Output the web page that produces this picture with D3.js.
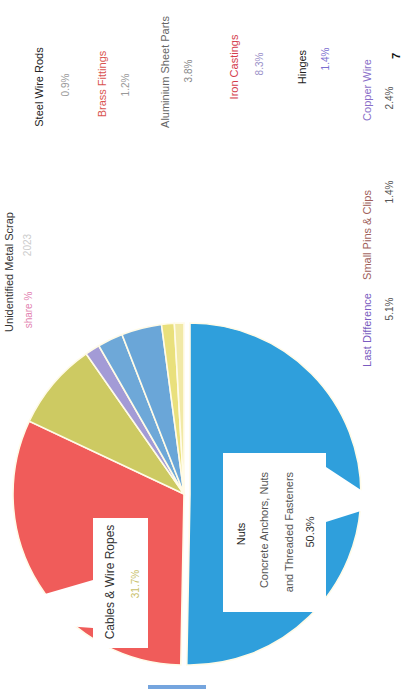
<!DOCTYPE html>
<html><head><meta charset="utf-8">
<script src="https://cdn.jsdelivr.net/npm/d3@7"></script>
<style>html,body{margin:0;padding:0;background:#fff}svg{display:block}</style>
</head><body>
<script>
// ---- data ----
const categories = ["Nuts", "Cables & Wires", "Tubes", "Hinges", "Screws", "Bolts", "Washers", "Rivets"];
const values = [50.3, 31.7, 8.3, 1.4, 2.4, 3.8, 1.2, 0.9];
const sliceColors = ["#2f9fdc", "#f05c5a", "#cdca62", "#a39bd6", "#6ea8d8", "#6aa6d8", "#e9e07c", "#f1e9a6"];
const legendLabels = ["Steel Wire Rods", "Brass Fittings", "Aluminium Sheet Parts", "Iron Castings", "Hinges"];
const legendValues = ["0.9%", "1.2%", "3.8%", "8.3%", "1.4%"];
const legendColors = ["#222", "#d9534f", "#666", "#d43c4c", "#222"];
const valueColors = ["#999", "#999", "#888", "#9a90c8", "#7b6fd0"];
const footLabels = ["Copper Wire", "Small Pins & Clips", "Last Difference"];
const footValues = ["2.4%", "1.4%", "5.1%"];
const footColors = ["#8a6fc8", "#a0605a", "#7a5cc0"];

const W = 692, H = 406; // chart drawn landscape, page is rotated
const svg = d3.select("body").append("svg").attr("width", 406).attr("height", 692)
  .style("font-family", "'Liberation Sans', Arial, sans-serif");
const g = svg.append("g").attr("transform", "translate(0,692) rotate(-90)");

// ---- pie ----
const cx = 198, cy = 184, R = 171;
const pie = d3.pie().sort(null).value(d => d).startAngle(Math.PI / 2).endAngle(Math.PI / 2 + 2 * Math.PI);
const arcs = pie(values);
const arc = d3.arc().innerRadius(0).outerRadius(R);
const explode = [6, 0, 0, 0, 0, 0, 0, 0];
const pg = g.append("g").attr("transform", `translate(${cx},${cy})`);
pg.selectAll("path").data(arcs).join("path")
  .attr("d", arc)
  .attr("fill", (d, i) => sliceColors[i])
  .attr("stroke", "#fffbe8").attr("stroke-width", 1.6)
  .attr("transform", (d, i) => {
    const a = (d.startAngle + d.endAngle) / 2;
    return `translate(${Math.sin(a) * explode[i]},${-Math.cos(a) * explode[i]})`;
  });

// ---- callout boxes ----
const cg = g.append("g");
// blue slice callout
cg.append("path").attr("fill", "#fff")
  .attr("d", "M80,223 H239 V326 H225 L200,364 H182 L170,326 H80 Z");
// red slice callout
cg.append("path").attr("fill", "#fff")
  .attr("d", "M44,93 H64 L68,38 H96 L112,93 H174 V148 H44 Z");

const tb = [
  {t: categories[0], x: 158, y: 241, c: "#222", s: 11},
  {t: "Concrete Anchors, Nuts", x: 162, y: 264, c: "#555", s: 11},
  {t: "and Threaded Fasteners", x: 160, y: 289, c: "#555", s: 11},
  {t: d3.format(".1f")(values[0]) + "%", x: 160, y: 310, c: "#333", s: 11},
  {t: "Cables & Wire Ropes", x: 110, y: 110, c: "#333", s: 12},
  {t: d3.format(".1f")(values[1]) + "%", x: 108, y: 135, c: "#c9bf6a", s: 10}
];
cg.selectAll("text").data(tb).join("text")
  .attr("x", d => d.x).attr("y", d => d.y).attr("dy", "0.35em")
  .attr("text-anchor", "middle").attr("fill", d => d.c).attr("font-size", d => d.s)
  .text(d => d.t);

// ---- right-hand labels ----
const legPos = [[605, 39], [608, 102], [620, 165], [625, 234], [625, 302]];
const valPos = [[607, 65], [607, 125], [621, 188], [628, 259], [633, 325]];
const lg = g.append("g").attr("font-size", 11).attr("text-anchor", "middle");
lg.selectAll("text.l").data(legendLabels).join("text").attr("class", "l")
  .attr("x", (d, i) => legPos[i][0]).attr("y", (d, i) => legPos[i][1]).attr("dy", "0.35em")
  .attr("fill", (d, i) => legendColors[i]).text(d => d);
lg.selectAll("text.v").data(legendValues).join("text").attr("class", "v")
  .attr("x", (d, i) => valPos[i][0]).attr("y", (d, i) => valPos[i][1]).attr("dy", "0.35em")
  .attr("fill", (d, i) => valueColors[i]).attr("font-size", 10).text(d => d);

// footer row
const footPos = [602, 457, 362];
const footValPos = [594, 500, 383];
lg.selectAll("text.f").data(footLabels).join("text").attr("class", "f")
  .attr("x", (d, i) => footPos[i]).attr("y", 367).attr("dy", "0.35em")
  .attr("fill", (d, i) => footColors[i]).text(d => d);
lg.selectAll("text.fv").data(footValues).join("text").attr("class", "fv")
  .attr("x", (d, i) => footValPos[i]).attr("y", 389).attr("dy", "0.35em")
  .attr("fill", "#555").attr("font-size", 10).text(d => d);
g.append("text").attr("x", 636).attr("y", 396).attr("dy", "0.35em").attr("text-anchor", "middle")
  .attr("font-size", 11).attr("font-weight", "bold").attr("fill", "#111").text("7");

// ---- title ----
g.append("text").attr("x", 420).attr("y", 9).attr("dy", "0.35em").attr("text-anchor", "middle")
  .attr("font-size", 11).attr("fill", "#333").text("Unidentified Metal Scrap");
g.append("text").attr("x", 382).attr("y", 28).attr("dy", "0.35em").attr("text-anchor", "middle")
  .attr("font-size", 10).attr("fill", "#e27fb0").text("share %");
g.append("text").attr("x", 447).attr("y", 27).attr("dy", "0.35em").attr("text-anchor", "middle")
  .attr("font-size", 10).attr("fill", "#ccc").text("2023");

// small blue marker at the bottom edge
g.append("rect").attr("x", 3).attr("y", 148).attr("width", 4).attr("height", 58).attr("fill", "#3a7fd0").attr("opacity", 0.7);
</script>
</body></html>
